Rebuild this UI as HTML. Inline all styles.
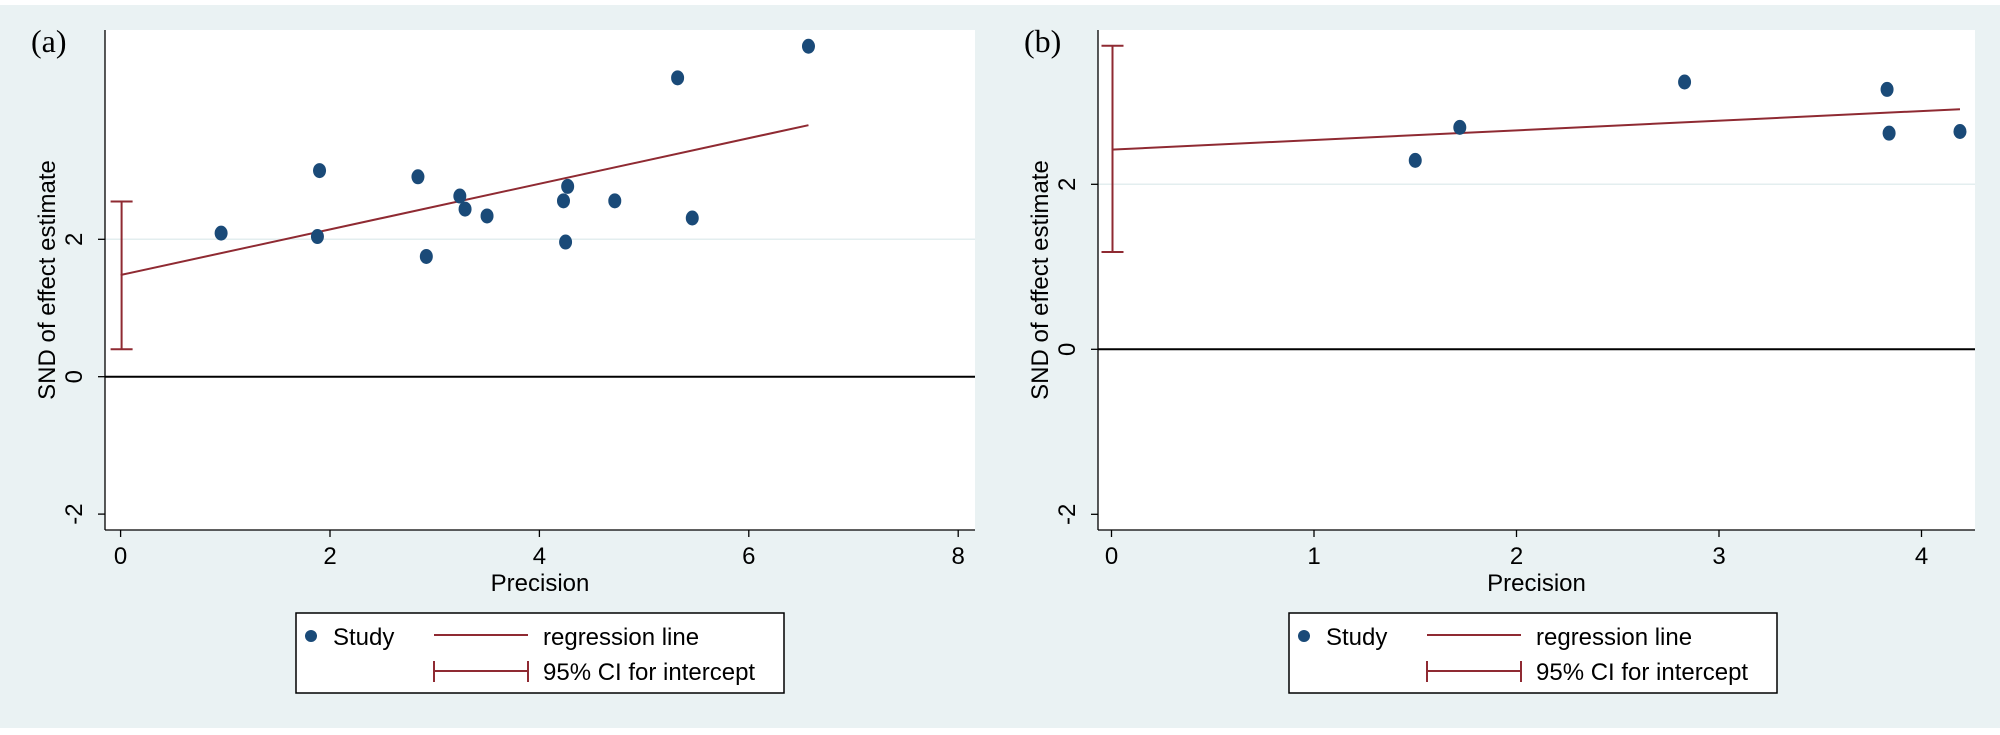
<!DOCTYPE html>
<html><head><meta charset="utf-8">
<style>
html,body{margin:0;padding:0;background:#fff;}
svg{display:block;font-family:"Liberation Sans",Arial,sans-serif;}
</style></head>
<body>
<svg id="chart" width="2000" height="735" viewBox="0 0 2000 735" xmlns="http://www.w3.org/2000/svg">
<rect x="0" y="5" width="2000" height="723" fill="#eaf2f3"/>
</svg>
<script>
// Panel (a) data
const aPrecision = [0.96, 1.90, 1.88, 2.84, 2.92, 3.24, 3.29, 3.50, 4.23, 4.27, 4.25, 4.72, 5.46, 5.32, 6.57];
const aSND       = [2.09, 3.00, 2.04, 2.91, 1.75, 2.63, 2.44, 2.34, 2.56, 2.77, 1.96, 2.56, 2.31, 4.35, 4.81];
const aIntercept = [1.48];
const aSlope = [0.332];
const aCI = [0.40, 2.55];
const aXTicks = [0, 2, 4, 6, 8];
const aYTicks = [-2, 0, 2];
// Panel (b) data
const bPrecision = [1.50, 1.72, 2.83, 3.83, 3.84, 4.19];
const bSND       = [2.29, 2.69, 3.24, 3.15, 2.62, 2.64];
const bIntercept = [2.42];
const bSlope = [0.117];
const bCI = [1.18, 3.68];
const bXTicks = [0, 1, 2, 3, 4];
const bYTicks = [-2, 0, 2];

const NS = "http://www.w3.org/2000/svg";
const svg = document.getElementById('chart');
function mk(tag, attrs, parent, text){
  const e = document.createElementNS(NS, tag);
  for (const k in attrs) e.setAttribute(k, attrs[k]);
  if (text !== undefined) e.textContent = text;
  (parent || svg).appendChild(e);
  return e;
}

function panel(cfg){
  const g = mk('g', {});
  
  
  const X = v => cfg.x0 + v * cfg.xu;
  const Y = v => cfg.y0 - v * cfg.yu;
  const pa = mk('rect', {x: cfg.left, y: 30, width: cfg.right - cfg.left, height: 500, fill: '#fff'}, g);
  
  
  cfg.yTicks.forEach(t => {
    if (t > 0) {
      const gl = mk('line', {x1: cfg.left, x2: cfg.right, y1: Y(t), y2: Y(t), stroke: '#e3eeef', 'stroke-width': 1.5}, g);
      
      
    }
  });
  const zl = mk('line', {x1: cfg.left, x2: cfg.right, y1: Y(0), y2: Y(0), stroke: '#000', 'stroke-width': 2}, g);
  
  
  const ya = mk('line', {x1: cfg.left, x2: cfg.left, y1: 30, y2: 530, stroke: '#000', 'stroke-width': 1.3}, g);
  
  
  const xa = mk('line', {x1: cfg.left, x2: cfg.right, y1: 530, y2: 530, stroke: '#000', 'stroke-width': 1.3}, g);
  
  
  cfg.yTicks.forEach(t => {
    const tk = mk('line', {x1: cfg.left - 7, x2: cfg.left, y1: Y(t), y2: Y(t), stroke: '#000', 'stroke-width': 1.3}, g);
    
    
    const lx = cfg.left - 23;
    const tl = mk('text', {x: lx, y: Y(t), 'font-size': 24, 'text-anchor': 'middle', transform: `rotate(-90 ${lx} ${Y(t)})`}, g, String(t));
    
    
  });
  cfg.xTicks.forEach(t => {
    const tk = mk('line', {x1: X(t), x2: X(t), y1: 530, y2: 537, stroke: '#000', 'stroke-width': 1.3}, g);
    
    
    const tl = mk('text', {x: X(t), y: 564, 'font-size': 24, 'text-anchor': 'middle'}, g, String(t));
    
    
  });
  const xt = mk('text', {x: (cfg.left + cfg.right) / 2, y: 591, 'font-size': 24, 'text-anchor': 'middle'}, g, 'Precision');
  
  
  const ty = 280, tx = cfg.left - 50;
  const yt = mk('text', {x: tx, y: ty, 'font-size': 24, 'text-anchor': 'middle', transform: `rotate(-90 ${tx} ${ty})`}, g, 'SND of effect estimate');
  
  
  const pl = mk('text', {x: cfg.left - 74, y: 52, 'font-size': 32, 'font-family': '"Liberation Serif", serif'}, g, cfg.label);
  
  
  const cx = X(0) + 1;
  const ci = mk('path', {d: `M${cx},${Y(cfg.ci[0])}V${Y(cfg.ci[1])}M${cx - 11},${Y(cfg.ci[0])}H${cx + 11}M${cx - 11},${Y(cfg.ci[1])}H${cx + 11}`, stroke: '#8f2a32', 'stroke-width': 2, fill: 'none'}, g);
  
  
  const xmax = Math.max(...cfg.px);
  const rl = mk('line', {x1: X(0), y1: Y(cfg.intercept[0]), x2: X(xmax), y2: Y(cfg.intercept[0] + cfg.slope[0] * xmax), stroke: '#8f2a32', 'stroke-width': 2}, g);
  
  
  cfg.px.forEach((v, i) => {
    const c = mk('ellipse', {cx: X(v), cy: Y(cfg.py[i]), rx: 6.5, ry: 7.5, fill: '#1a4a78'}, g);
    
    
  });
  const lx0 = cfg.legX;
  const lg = mk('g', {}, g);
  
  
  mk('rect', {x: lx0, y: 613, width: 488, height: 80, fill: '#fff', stroke: '#000', 'stroke-width': 1.5}, lg);
  const ld = mk('circle', {cx: lx0 + 15, cy: 636, r: 6, fill: '#1a4a78'}, lg);
  
  
  const l1 = mk('text', {x: lx0 + 37, y: 645, 'font-size': 24}, lg, 'Study');
  
  
  const ll = mk('line', {x1: lx0 + 138, x2: lx0 + 232, y1: 635, y2: 635, stroke: '#8f2a32', 'stroke-width': 2}, lg);
  
  
  const l2 = mk('text', {x: lx0 + 247, y: 645, 'font-size': 24}, lg, 'regression line');
  
  
  const lc = mk('path', {d: `M${lx0 + 138},661V682M${lx0 + 232},661V682M${lx0 + 138},671H${lx0 + 232}`, stroke: '#8f2a32', 'stroke-width': 2, fill: 'none'}, lg);
  
  
  const l3 = mk('text', {x: lx0 + 247, y: 680, 'font-size': 24}, lg, '95% CI for intercept');
  
  
}

panel({name: 'panel-a', label: '(a)', left: 105, right: 975, x0: 120.6, xu: 104.7, y0: 376.7, yu: 68.7,
  xTicks: aXTicks, yTicks: aYTicks, px: aPrecision, py: aSND, intercept: aIntercept, slope: aSlope, ci: aCI, legX: 296});
panel({name: 'panel-b', label: '(b)', left: 1098, right: 1975, x0: 1111.5, xu: 202.5, y0: 349.3, yu: 82.5,
  xTicks: bXTicks, yTicks: bYTicks, px: bPrecision, py: bSND, intercept: bIntercept, slope: bSlope, ci: bCI, legX: 1289});
</script>
</body></html>
